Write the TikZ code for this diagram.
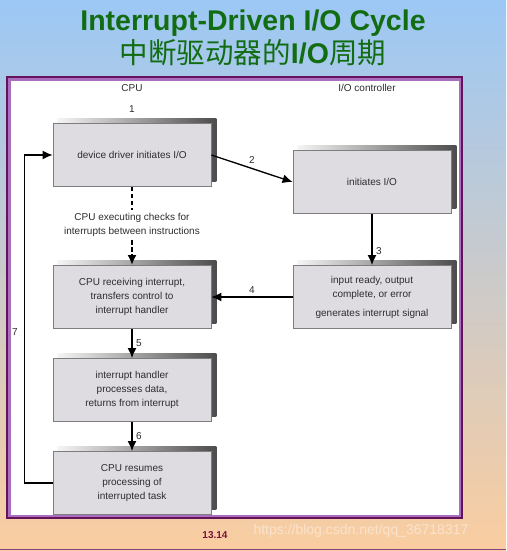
\documentclass[tikz,border=0pt]{standalone}
\usepackage{fontspec}
\setmainfont{Liberation Sans}
\newfontfamily\cjk{Noto Sans CJK SC}
\usetikzlibrary{arrows.meta}
\usetikzlibrary{positioning}

\definecolor{titlegreen}{RGB}{18,108,18}
\definecolor{boxfill}{RGB}{222,219,225}
\definecolor{boxline}{RGB}{125,125,128}
\definecolor{inktext}{RGB}{45,45,45}
\definecolor{framedark}{RGB}{100,18,92}
\definecolor{framelight}{RGB}{170,110,190}
\definecolor{skyblue}{RGB}{156,200,245}
\definecolor{midlilac}{RGB}{205,198,222}
\definecolor{peach}{RGB}{250,205,160}
\definecolor{pagenum}{RGB}{120,20,60}

\pgfdeclarelayer{back}
\pgfdeclarelayer{shade}
\pgfsetlayers{back,shade,main}

\tikzset{
  stepbox/.style={draw=boxline, line width=0.8pt, fill=boxfill,
    minimum width=158pt, minimum height=63pt, align=center,
    text=inktext, font=\fontsize{10}{14}\selectfont},
  plain/.style={text=inktext, font=\fontsize{10}{14.5}\selectfont, align=center},
  flow/.style={line width=1.6pt, -{Latex[length=10pt,width=9pt]}},
}

\begin{document}
\begin{tikzpicture}[x=1pt,y=-1pt]

\useasboundingbox (0,0) rectangle (506,551);

% background and frame
\begin{pgfonlayer}{back}
\shade[top color=skyblue, middle color=midlilac, bottom color=peach]
  (0,0) rectangle (506,551);
\fill[framedark] (6,76) rectangle (463,519);
\fill[framelight] (8,78) rectangle (460.5,516.5);
\fill[white] (10.5,80.5) rectangle (458.5,514.5);
\draw[framedark!80, line width=1.5pt] (0,549.5) -- (506,549.5);
\end{pgfonlayer}

% title
\node[text=titlegreen, font=\fontsize{28.5}{32}\selectfont\bfseries] (ttl) at (253,23)
  {Interrupt-Driven I/O Cycle};
\node[text=titlegreen, font=\fontsize{28.5}{32}\selectfont] (ttlcn) at (253,53)
  {{\cjk 中断驱动器的}{\bfseries I/O}{\cjk 周期}};

% column heads
\node[plain] (hcpu) at (132,88) {CPU};
\node[plain] (hio) at (367,88) {I/O controller};

% boxes
\node[stepbox] (drv) at (132,155) {device driver initiates I/O};
\node[stepbox] (ctl) at (372,182) {initiates I/O};
\node[stepbox] (rcv) at (132,297) {CPU receiving interrupt,\\transfers control to\\interrupt handler};
\node[stepbox] (sig) at (372,297) {input ready, output\\complete, or error\\[5pt]generates interrupt signal};
\node[stepbox] (hnd) at (132,390) {interrupt handler\\processes data,\\returns from interrupt};
\node[stepbox] (res) at (132,483) {CPU resumes\\processing of\\interrupted task};

\node[plain] (chk) at (132,225) {CPU executing checks for\\interrupts between instructions};
\node[plain, above=2pt of drv, yshift=5pt] (n1) {1};

% shadows
\begin{pgfonlayer}{shade}
\foreach \b in {drv,ctl,rcv,sig,hnd,res}
  \shade[left color=gray!8, right color=black!70]
    ([shift={(5,-5)}]\b.south west) rectangle ([shift={(5,-5)}]\b.north east);
\end{pgfonlayer}

% connectors
\draw[flow, line width=1.3pt] (drv.east) -- node[plain, above, pos=0.5, yshift=1pt] {2} (ctl.west);
\draw[flow] (ctl.south) -- node[plain, right, pos=0.72] {3} (sig.north);
\draw[flow, line width=1.3pt] (sig.west) -- node[plain, above, pos=0.5] {4} (rcv.east);
\draw[line width=2.4pt, dash pattern=on 4.5pt off 2.5pt] (drv.south) -- (chk.north);
\draw[line width=2.4pt, dash pattern=on 4.5pt off 2.5pt, -{Latex[length=10pt,width=9pt]}] (chk.south) -- (rcv.north);
\draw[flow] (rcv.south) -- node[plain, right, pos=0.5] {5} (hnd.north);
\draw[flow] (hnd.south) -- node[plain, right, pos=0.5] {6} (res.north);
\draw[flow, line width=1.2pt] (res.west) -- ++(-28,0) coordinate (c7)
  |- node[plain, left, pos=0.23, xshift=-3pt] {7} (drv.west);

% footer
\node[text=pagenum, font=\fontsize{10}{12}\selectfont\bfseries] (pg) at (215,535) {13.14};
\node[text=white, opacity=0.45, font=\fontsize{14}{16}\selectfont, anchor=west] (wm) at (250,531)
  {https://blog.csdn.net/qq\_36718317};

\end{tikzpicture}
\end{document}
